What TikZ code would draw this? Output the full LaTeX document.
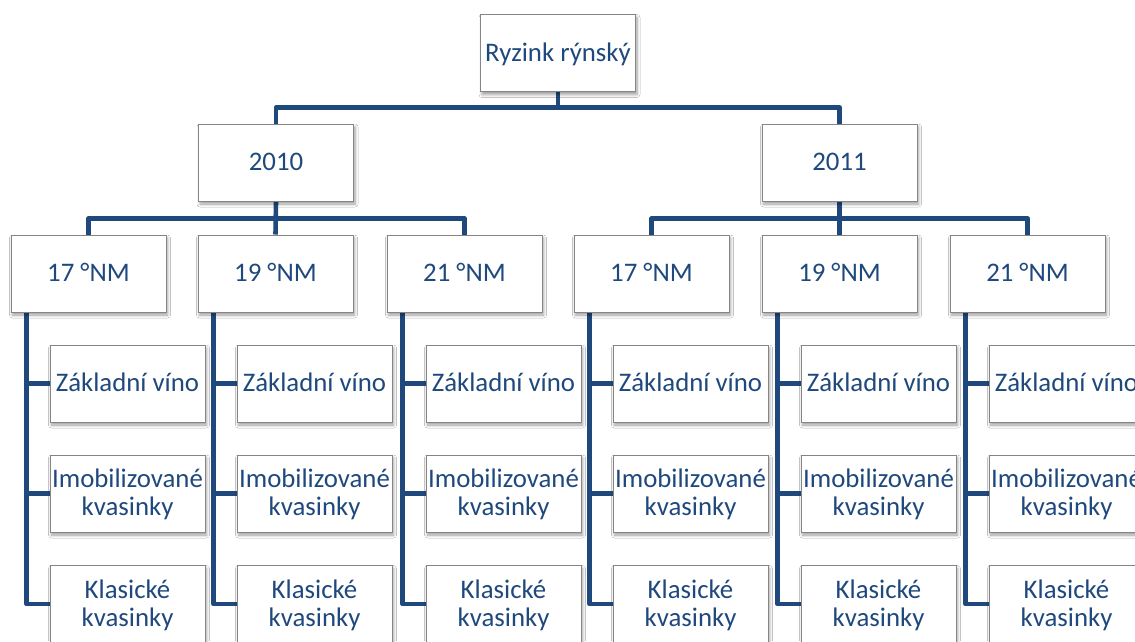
\documentclass[tikz,border=0pt]{standalone}
\usepackage{fontspec}
\setmainfont{Carlito}
\usetikzlibrary{shadows,shadows.blur}
\pgfdeclarelayer{background}
\pgfsetlayers{background,main}
\definecolor{lineblue}{HTML}{1F497D}
\definecolor{textblue}{HTML}{1F497D}
\definecolor{boxgray}{HTML}{858585}
\newcommand\onel[1]{\raisebox{-8.4pt}{#1}}
\newcommand\twol[2]{\raisebox{-22.4pt}{\vbox{\baselineskip=28pt\halign{\hfil##\hfil\cr #1\cr #2\cr}}}}
\tikzset{
  box/.style={draw=boxgray, line width=1pt, fill=white, minimum width=155pt, minimum height=77pt,
    inner sep=0pt, text height=0pt, text depth=0pt, text=textblue,
    font=\fontsize{26.8}{28}\selectfont,
    blur shadow={shadow xshift=1.5pt, shadow yshift=-3pt, shadow opacity=40, shadow blur steps=6, shadow blur radius=3pt}},
  conn/.style={draw=lineblue, line width=4.6pt, line join=round}
}
\begin{document}
\begin{tikzpicture}[x=1pt,y=-1pt]
\useasboundingbox (0,0) rectangle (1135,641);
\clip (0,0) rectangle (1135,641);
\node[box] (root) at (558,53) {\onel{Ryzink rýnský}};
\node[box] (y2010) at (276,162.5) {\onel{2010}};
\node[box] (y2011) at (839.5,162.5) {\onel{2011}};
\foreach \n/\x/\t in {a1/88.5/17, a2/275.5/19, a3/464.5/21, b1/651.5/17, b2/839.5/19, b3/1027.5/21}{
  \node[box] (\n) at (\x,273.5) {\onel{\t\ °NM}};
  \node[box] (\n z) at (\x+39,383.5) {\onel{Základní víno}};
  \node[box] (\n i) at (\x+39,493.5) {\twol{Imobilizované}{kvasinky}};
  \node[box] (\n k) at (\x+39,604) {\twol{Klasické}{kvasinky}};
}
\begin{pgfonlayer}{background}
\clip (0,0) rectangle (1135,641);
\fill[white] (0,0) rectangle (1135,641);
\draw[conn] (root.south) -- ++(0,15.5) -| (y2010.north);
\draw[conn] (root.south) -- ++(0,15.5) -| (y2011.north);
\foreach \p/\a/\b/\c in {y2010/a1/a2/a3, y2011/b1/b2/b3}{
  \draw[conn] (\p.south) -- ++(0,17) -| (\a.north);
  \draw[conn] (\p.south) -- ++(0,17) -| (\c.north);
  \draw[conn] (\p.south) -- (\b.north);
}
\foreach \n in {a1,a2,a3,b1,b2,b3}{
  \draw[conn] ([xshift=16pt]\n.south west) |- (\n k.west);
  \draw[conn] ([xshift=16pt]\n.south west |- \n z.west) -- (\n z.west);
  \draw[conn] ([xshift=16pt]\n.south west |- \n i.west) -- (\n i.west);
}
\end{pgfonlayer}
\end{tikzpicture}
\end{document}
